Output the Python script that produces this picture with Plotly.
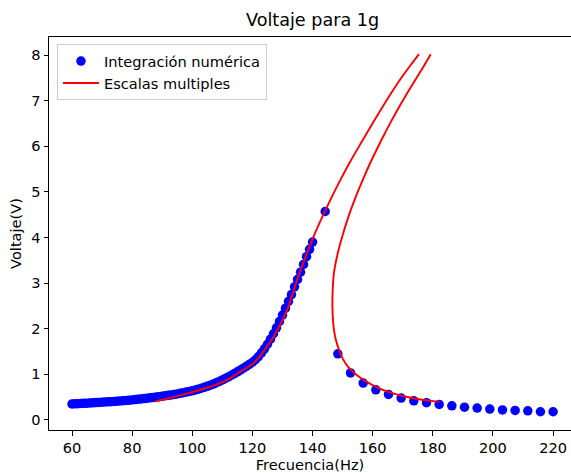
import plotly.graph_objects as go

# ---- Data ----
# Numerical integration (blue dots): dense sweep 60-140 Hz
freq_num_dense = [60, 61, 62, 63, 64, 65, 66, 67, 68, 69,
                  70, 71, 72, 73, 74, 75, 76, 77, 78, 79,
                  80, 81, 82, 83, 84, 85, 86, 87, 88, 89,
                  90, 91, 92, 93, 94, 95, 96, 97, 98, 99,
                  100, 101, 102, 103, 104, 105, 106, 107, 108, 109,
                  110, 111, 112, 113, 114, 115, 116, 117, 118, 119,
                  120, 121, 122, 123, 124, 125, 126, 127, 128, 129,
                  130, 131, 132, 133, 134, 135, 136, 137, 138, 139, 140]
volt_num_dense = [0.350, 0.353, 0.357, 0.361, 0.365, 0.369, 0.373, 0.377, 0.381, 0.385,
                  0.390, 0.394, 0.398, 0.402, 0.406, 0.410, 0.416, 0.422, 0.428, 0.434,
                  0.440, 0.447, 0.454, 0.461, 0.469, 0.477, 0.485, 0.493, 0.501, 0.510,
                  0.520, 0.530, 0.540, 0.550, 0.560, 0.570, 0.583, 0.597, 0.611, 0.625,
                  0.640, 0.657, 0.675, 0.695, 0.716, 0.738, 0.762, 0.788, 0.816, 0.846,
                  0.878, 0.910, 0.944, 0.980, 1.017, 1.055, 1.095, 1.135, 1.177, 1.220,
                  1.265, 1.320, 1.390, 1.470, 1.560, 1.660, 1.770, 1.890, 2.020, 2.160,
                  2.300, 2.450, 2.600, 2.750, 2.920, 3.080, 3.240, 3.410, 3.580, 3.740, 3.900]
# coarse sweep 144-220 Hz
freq_num_coarse = [144.21, 148.42, 152.63, 156.84, 161.05, 165.26, 169.47, 173.68,
                   177.89, 182.11, 186.32, 190.53, 194.74, 198.95, 203.16, 207.37,
                   211.58, 215.79, 220.0]
volt_num_coarse = [4.57, 1.45, 1.03, 0.81, 0.66, 0.56, 0.48, 0.42,
                   0.38, 0.34, 0.31, 0.28, 0.26, 0.24, 0.22, 0.21,
                   0.20, 0.18, 0.18]

# Multiple scales (red curve): left branch then right branch
freq_ms_left = [87.7, 93.0, 99.3, 104.0, 109.3, 113.0, 116.0, 118.5, 120.4, 122.5,
                124.5, 127.1, 129.5, 131.6, 133.3, 134.9, 136.6, 138.2, 140.4, 142.4,
                144.3, 146.7, 149.3, 152.5, 156.0, 159.3, 162.7, 166.0, 169.3, 172.4, 175.4]
volt_ms_left = [0.41, 0.49, 0.60, 0.69, 0.81, 0.93, 1.06, 1.16, 1.25, 1.40,
                1.58, 1.83, 2.12, 2.42, 2.75, 3.08, 3.38, 3.66, 4.03, 4.33,
                4.60, 4.93, 5.27, 5.66, 6.06, 6.43, 6.80, 7.15, 7.48, 7.76, 8.02]
freq_ms_right = [179.3, 176.0, 172.7, 169.3, 166.0, 162.7, 159.3, 156.8, 154.3, 152.0,
                 149.9, 148.4, 147.1, 146.7, 146.6, 146.8, 147.1, 147.7, 148.8, 150.0,
                 151.5, 153.5, 156.0, 158.5, 161.6, 165.0, 168.0, 170.4, 174.0, 178.0, 182.1]
volt_ms_right = [8.02, 7.65, 7.30, 6.92, 6.53, 6.11, 5.65, 5.28, 4.88, 4.47,
                 4.03, 3.66, 3.22, 2.85, 2.49, 2.18, 1.98, 1.77, 1.54, 1.35,
                 1.19, 1.05, 0.92, 0.82, 0.71, 0.62, 0.56, 0.52, 0.47, 0.43, 0.40]

x_ticks = [60, 80, 100, 120, 140, 160, 180, 200, 220]
y_ticks = [0, 1, 2, 3, 4, 5, 6, 7, 8]

FONT = "DejaVu Sans"
FS = 14.6

fig = go.Figure()
fig.add_trace(go.Scatter(
    x=freq_num_dense + freq_num_coarse,
    y=volt_num_dense + volt_num_coarse,
    mode="markers",
    marker=dict(color="#0000ff", size=9.5, line=dict(width=0)),
    name="Integración numérica",
))
fig.add_trace(go.Scatter(
    x=freq_ms_left + [None] + freq_ms_right,
    y=volt_ms_left + [None] + volt_ms_right,
    mode="lines",
    line=dict(color="#ff0000", width=1.9, shape="spline", smoothing=0.8),
    connectgaps=False,
    name="Escalas multiples",
))

axis_common = dict(
    showgrid=False, zeroline=False,
    showline=True, linecolor="black", linewidth=1,
    ticks="outside", ticklen=4.5, tickwidth=1, tickcolor="black",
    tickfont=dict(family=FONT, size=FS, color="black"),
)

fig.update_layout(
    width=571, height=473,
    margin=dict(l=49, r=0, t=37, b=43, pad=0),
    paper_bgcolor="white", plot_bgcolor="white",
    font=dict(family=FONT, color="black"),
    title=dict(text="Voltaje para 1g", x=0.505, xref="paper",
               y=1 - 20 / 473, yref="container", yanchor="middle", xanchor="center",
               font=dict(family=FONT, size=17.6, color="black")),
    xaxis=dict(range=[52.35, 225.95], tickvals=x_ticks, mirror=True,
               title=dict(text="Frecuencia(Hz)", standoff=2,
                          font=dict(family=FONT, size=FS, color="black")),
               **axis_common),
    yaxis=dict(range=[-0.22, 8.396], tickvals=y_ticks,
               title=dict(text="Voltaje(V)", standoff=6,
                          font=dict(family=FONT, size=FS, color="black")),
               **axis_common),
    legend=dict(x=0.0153, y=0.982, xanchor="left", yanchor="top",
                bgcolor="rgba(255,255,255,0.8)", bordercolor="#cccccc", borderwidth=1,
                itemwidth=36,
                font=dict(family=FONT, size=FS, color="black")),
    showlegend=True,
)

fig.write_html("out.html")
